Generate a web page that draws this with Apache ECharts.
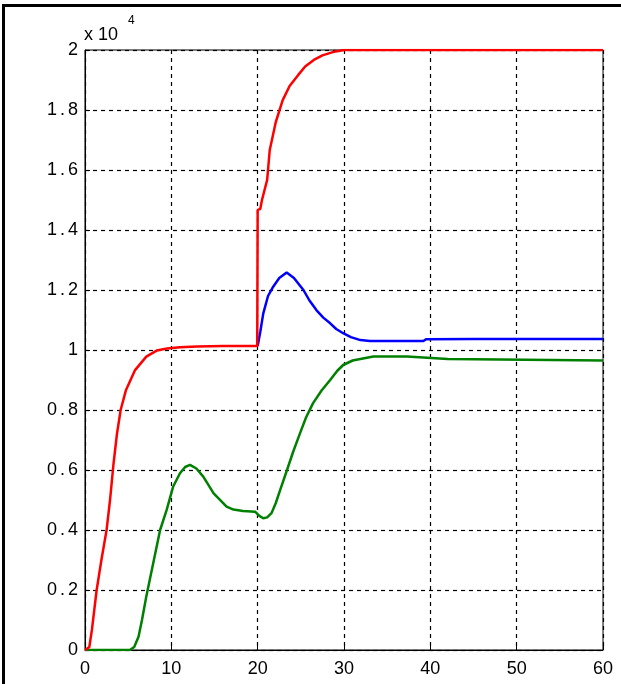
<!DOCTYPE html>
<html>
<head>
<meta charset="utf-8">
<script src="https://cdn.jsdelivr.net/npm/echarts@6/dist/echarts.min.js"></script>
<style>
html,body{margin:0;padding:0;background:#fff;}
#chart{width:621px;height:684px;}
</style>
</head>
<body>
<div id="chart"></div>
<script>
// X ticks and Y ticks
const xTicks = [0, 10, 20, 30, 40, 50, 60];
const yTicks = [0, 0.2, 0.4, 0.6, 0.8, 1, 1.2, 1.4, 1.6, 1.8, 2];

// Red series (x 10^4)
const redT = [0, 0.5, 0.8, 1.35, 1.9, 2.5, 2.9, 3.3, 3.7, 4.13, 4.75, 5.8, 7.1, 8.3, 9.5, 11, 13, 16, 19.95,
  20, 20.3, 20.5, 21.1, 21.4, 22.1, 22.9, 23.7, 24.7, 25.5, 26.5, 27.5, 28.7, 30, 60];
const redV = [0, 0.01, 0.067, 0.2, 0.3, 0.4, 0.5, 0.62, 0.72, 0.8, 0.867, 0.933, 0.978, 0.998, 1.005, 1.009, 1.012, 1.013, 1.013,
  1.467, 1.47, 1.5, 1.567, 1.667, 1.76, 1.833, 1.88, 1.917, 1.945, 1.967, 1.982, 1.993, 2.0, 2.0];

// Blue series
const blueT = [20, 20.3, 20.65, 21.2, 21.8, 22.5, 23.36, 24.2, 25.3, 26.0, 26.8, 27.6, 28.4, 29.1, 29.9, 30.8, 31.9, 33, 36, 39.2, 39.5, 45, 60];
const blueV = [1.013, 1.06, 1.122, 1.18, 1.211, 1.24, 1.258, 1.24, 1.2, 1.165, 1.133, 1.108, 1.089, 1.07, 1.056, 1.043, 1.033, 1.03, 1.03, 1.03, 1.036, 1.037, 1.037];

// Green series
const greenT = [0, 5.2, 5.7, 6.2, 6.6, 7.1, 7.9, 8.7, 9.46, 10.2, 11.0, 11.6, 12.16, 12.9, 13.7, 14.9, 16.4, 17.2, 18.3, 19.7, 20.2, 20.65, 21.1, 21.6, 22.1, 22.6, 23.4, 24.1, 24.9, 25.6, 26.4, 27.4, 28.4, 29.2, 29.9, 31, 32.2, 33.4, 37.3, 42, 60];
const greenV = [0, 0, 0.01, 0.044, 0.1, 0.178, 0.289, 0.4, 0.467, 0.544, 0.589, 0.61, 0.617, 0.605, 0.578, 0.522, 0.478, 0.468, 0.463, 0.461, 0.447, 0.439, 0.442, 0.456, 0.49, 0.533, 0.6, 0.66, 0.722, 0.775, 0.822, 0.865, 0.9, 0.93, 0.95, 0.965, 0.972, 0.978, 0.978, 0.97, 0.965];

const pair = (t, v) => t.map((x, i) => [x, v[i]]);
const font = '"Liberation Sans", Arial, sans-serif';

const chart = echarts.init(document.getElementById('chart'), null, {renderer: 'canvas'});
chart.setOption({
  animation: false,
  backgroundColor: '#fff',
  grid: {left: 85, right: 18, top: 50, bottom: 34, show: true, borderColor: '#000', borderWidth: 1, backgroundColor: 'transparent'},
  xAxis: {
    type: 'value', min: xTicks[0], max: xTicks[xTicks.length - 1], interval: 10,
    axisLine: {show: true, onZero: false, lineStyle: {color: '#000', width: 1}},
    axisTick: {show: true, inside: true, length: 5, lineStyle: {color: '#000'}},
    splitLine: {show: true, lineStyle: {color: '#000', type: [4, 4], width: 1.2}},
    axisLabel: {color: '#000', fontSize: 18, fontFamily: font, margin: 10}
  },
  yAxis: {
    type: 'value', min: yTicks[0], max: yTicks[yTicks.length - 1], interval: 0.2,
    axisLine: {show: true, lineStyle: {color: '#000', width: 1}},
    axisTick: {show: true, inside: true, length: 5, lineStyle: {color: '#000'}},
    splitLine: {show: true, lineStyle: {color: '#000', type: [4, 4], width: 1.2}},
    axisLabel: {color: '#000', fontSize: 18, fontFamily: font, margin: 7,
      formatter: v => {
        const s = String(Math.round(v * 10) / 10);
        const parts = s.split('.');
        return parts.length === 2 ? '{d|' + parts[0] + '}{p|.}{d|' + parts[1] + '}' : '{d|' + s + '}';
      },
      rich: {
        d: {fontSize: 18, fontFamily: font, color: '#000'},
        p: {fontSize: 18, fontFamily: font, color: '#000', width: 11, align: 'center'}
      }
    }
  },
  graphic: [
    {type: 'rect', shape: {x: 2, y: 4, width: 3, height: 684}, style: {fill: '#000'}, silent: true},
    {type: 'rect', shape: {x: 2, y: 4, width: 619, height: 3}, style: {fill: '#000'}, silent: true},
    {type: 'text', left: 84, top: 26, style: {text: 'x 10', font: '18px ' + font, fill: '#000'}},
    {type: 'text', left: 128, top: 15, style: {text: '4', font: '12px ' + font, fill: '#000'}}
  ],
  series: [
    {type: 'line', data: pair(blueT, blueV), showSymbol: false, lineStyle: {color: '#0000ff', width: 2.5}, z: 3},
    {type: 'line', data: pair(greenT, greenV), showSymbol: false, lineStyle: {color: '#008000', width: 2.5}, z: 3},
    {type: 'line', data: pair(redT, redV), showSymbol: false, lineStyle: {color: '#ff0000', width: 2.5}, z: 4}
  ]
});
</script>
</body>
</html>
